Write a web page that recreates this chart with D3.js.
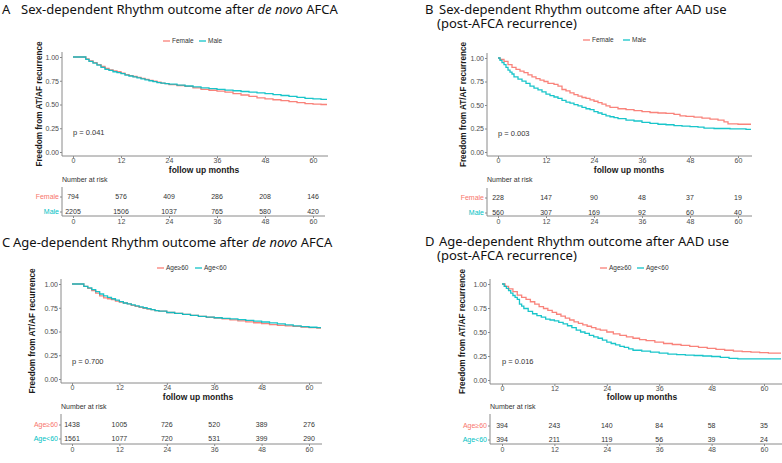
<!DOCTYPE html>
<html><head><meta charset="utf-8">
<script src="https://cdn.jsdelivr.net/npm/d3@7/dist/d3.min.js"></script>
<style>body{margin:0;background:#fff}svg{display:block}text{white-space:pre}</style>
</head><body>
<svg id="c" width="782" height="463"></svg>
<script>
// ---------- DATA ----------
const months = [0, 12, 24, 36, 48, 60];
const yTicks = [0, 0.25, 0.5, 0.75, 1];
const sexGroups = ["Female", "Male"];
const ageGroups = ["Age\u226560", "Age<60"];
const pValues = ["p = 0.041", "p = 0.003", "p = 0.700", "p = 0.016"];

// Panel A: de novo AFCA by sex
const aFemaleT = [0,3.2,4,5,6,7,8,9,10,11,12,13,14,15,16,17,18,19,20,21,22,23,24,26,28,30,32,34,36,38,40,42,44,46,48,50,52,54,56,58,60,62];
const aFemaleS = [1,.98,.96,.94,.92,.9,.88,.865,.855,.845,.83,.815,.805,.795,.785,.775,.765,.755,.745,.735,.725,.72,.71,.70,.69,.675,.66,.65,.64,.63,.615,.60,.585,.57,.56,.55,.54,.53,.52,.51,.505,.50];
const aMaleT = [0,3.2,4,5,6,7,8,9,10,11,12,13,14,15,16,17,18,19,20,21,22,23,24,26,28,30,32,34,36,38,40,42,44,46,48,50,52,54,56,58,60,62];
const aMaleS = [1,.975,.955,.935,.915,.89,.87,.86,.845,.835,.825,.81,.80,.79,.78,.77,.76,.75,.74,.73,.725,.72,.715,.705,.695,.685,.675,.668,.66,.652,.645,.637,.63,.622,.615,.605,.595,.585,.575,.565,.56,.555];
const aRiskFemale = [794, 576, 409, 286, 208, 146];
const aRiskMale = [2205, 1506, 1037, 765, 580, 420];

// Panel B: AAD use by sex
const bFemaleT = [0,0.5,1.5,2.5,3.5,4.5,5.5,6.5,7.5,8.5,9.5,10.5,11.5,12.5,14,15,16,17,18,19,20,21,22,23,24,25,26,27,28,30,32,34,36,38,40,42,44,45.5,47,49,51,53,55,56.5,57.5,60,62];
const bFemaleS = [1,.985,.965,.93,.9,.88,.86,.845,.82,.80,.78,.765,.75,.73,.72,.70,.665,.65,.63,.61,.595,.58,.57,.555,.54,.525,.51,.49,.475,.46,.45,.44,.43,.42,.415,.41,.40,.385,.38,.37,.36,.35,.34,.32,.30,.295,.295];
const bMaleT = [0,0.5,1,1.5,2,2.5,3,3.5,4,5,6,7,8,9,10,11,12,13,14,15,16,17,18,19,20,21,22,23,24,25,26,27,28,29,30,32,34,36,38,40,42,44,46,48,50,51.5,54,58,62];
const bMaleS = [1,.975,.95,.93,.9,.87,.85,.83,.80,.775,.755,.73,.70,.68,.66,.64,.615,.60,.585,.57,.55,.53,.52,.505,.49,.475,.46,.45,.43,.415,.40,.385,.375,.365,.355,.34,.33,.315,.305,.295,.29,.28,.275,.27,.265,.255,.25,.245,.24];
const bRiskFemale = [228, 147, 90, 48, 37, 19];
const bRiskMale = [560, 307, 169, 92, 60, 40];

// Panel C: de novo AFCA by age
const cOldT = [0,3,4,5,6,7,8,9,10,11,12,13,14,15,16,17,18,19,20,21,22,24,26,28,30,32,34,36,38,40,42,44,46,48,50,52,54,56,58,60,62];
const cOldS = [1,.975,.955,.93,.905,.875,.855,.845,.835,.82,.81,.80,.79,.775,.765,.755,.745,.735,.73,.72,.715,.70,.69,.68,.67,.66,.65,.642,.632,.622,.612,.602,.592,.582,.572,.565,.56,.553,.547,.54,.535];
const cYoungT = [0,3,4,5,6,7,8,9,10,11,12,13,14,15,16,17,18,19,20,21,22,24,26,28,30,32,34,36,38,40,42,44,46,48,50,52,54,56,58,60,62];
const cYoungS = [1,.975,.96,.94,.92,.895,.875,.86,.845,.83,.815,.80,.79,.78,.77,.76,.75,.74,.73,.72,.715,.70,.69,.68,.67,.66,.652,.645,.638,.632,.625,.618,.61,.60,.59,.58,.57,.56,.552,.545,.54];
const cRiskOld = [1438, 1005, 726, 520, 389, 276];
const cRiskYoung = [1561, 1077, 720, 531, 399, 290];

// Panel D: AAD use by age
const dOldT = [0,0.7,1.5,2.5,3.5,4.5,5.5,6.5,7.5,8.5,9.5,10.5,11.5,12.5,13.5,14.5,15.5,16.5,17.5,18.5,19.5,20.5,21.5,22.5,24,25.5,27,28.5,30,31.5,33,35,37,39,41,43,45,47,49,51,53,55,57,59,61];
const dOldS = [1,.975,.95,.92,.885,.86,.84,.815,.79,.765,.745,.725,.705,.685,.665,.645,.625,.605,.59,.575,.56,.545,.53,.52,.5,.48,.465,.45,.435,.42,.41,.395,.38,.37,.36,.35,.34,.33,.32,.31,.30,.295,.29,.285,.28];
const dYoungT = [0,0.5,1,1.5,2,2.5,3,3.5,4,4.5,5,6,7,8,9,10,11,12,13,14,15,16,17,18,19,20,21,22,23,24,25,26,27,28,29,30,32,34,36,38,40,42,44,46,48,50,52,54,60];
const dYoungS = [1,.975,.955,.93,.905,.88,.86,.84,.79,.77,.745,.715,.69,.67,.655,.635,.625,.615,.6,.585,.565,.545,.52,.5,.485,.465,.45,.435,.415,.395,.38,.365,.35,.34,.325,.31,.3,.29,.28,.27,.265,.26,.255,.25,.245,.235,.225,.22,.22];
const dRiskOld = [394, 243, 140, 84, 58, 35];
const dRiskYoung = [394, 211, 119, 56, 39, 24];

// ---------- LAYOUT ----------
const COL = ["#F8766D", "#00BFC4"];
const TICKFONT = "Liberation Sans, Arial, sans-serif";
const TITLEFONT = "Noto Sans, Open Sans, sans-serif";

const panels = [
  { letter: "A", letterX: 2, textX: 21, titleY: 14,
    lines: [["Sex-dependent Rhythm outcome after ", ["de novo"], " AFCA"]],
    legendY: 41, legendX: [163, 199], groups: sexGroups,
    series: [[aFemaleT, aFemaleS], [aMaleT, aMaleS]], risk: [aRiskFemale, aRiskMale], p: pValues[0],
    axisX: 62, x0: 73, x60: 313, xEnd: 328, yTop: 57, yBot: 152, axisTop: 52, axisBot: 156,
    ylabX: 39, xlabX: 204, xlabY: 173, pY: 135,
    nrY: 182, rowY: [197, 212], tblTop: 187, tblLine: 216, tblEnd: 325 },
  { letter: "B", letterX: 425, textX: 439, titleY: 14,
    lines: [["Sex-dependent Rhythm outcome after AAD use"], ["(post-AFCA recurrence)"]], line2X: 437,
    legendY: 40, legendX: [583, 623], groups: sexGroups,
    series: [[bFemaleT, bFemaleS], [bMaleT, bMaleS]], risk: [bRiskFemale, bRiskMale], p: pValues[1],
    axisX: 487, x0: 498, x60: 738, xEnd: 752, yTop: 58, yBot: 152, axisTop: 53, axisBot: 156,
    ylabX: 463, xlabX: 629, xlabY: 173, pY: 136,
    nrY: 182, rowY: [198, 213], tblTop: 188, tblLine: 216, tblEnd: 752 },
  { letter: "C", letterX: 2, textX: 13, titleY: 247,
    lines: [["Age-dependent Rhythm outcome after ", ["de novo"], " AFCA"]],
    legendY: 268, legendX: [157, 195], groups: ageGroups,
    series: [[cOldT, cOldS], [cYoungT, cYoungS]], risk: [cRiskOld, cRiskYoung], p: pValues[2],
    axisX: 61, x0: 72, x60: 309, xEnd: 322, yTop: 284, yBot: 379, axisTop: 279, axisBot: 383,
    ylabX: 32, xlabX: 198, xlabY: 400, pY: 364,
    nrY: 409, rowY: [425, 439], tblTop: 414, tblLine: 444, tblEnd: 322 },
  { letter: "D", letterX: 425, textX: 439, titleY: 246,
    lines: [["Age-dependent Rhythm outcome after AAD use"], ["(post-AFCA recurrence)"]], line2X: 437,
    legendY: 268, legendX: [600, 637], groups: ageGroups,
    series: [[dOldT, dOldS], [dYoungT, dYoungS]], risk: [dRiskOld, dRiskYoung], p: pValues[3],
    axisX: 490, x0: 502, x60: 764, xEnd: 782, yTop: 284, yBot: 380, axisTop: 279, axisBot: 384,
    ylabX: 462, xlabX: 642, xlabY: 400, pY: 364,
    nrY: 409, rowY: [426, 440], tblTop: 414, tblLine: 444, tblEnd: 782 }
];

const svg = d3.select("#c");

function drawPanel(cfg) {
  const g = svg.append("g");
  const x = d3.scaleLinear().domain([0, 60]).range([cfg.x0, cfg.x60]);
  const y = d3.scaleLinear().domain([0, 1]).range([cfg.yBot, cfg.yTop]);

  // Title (one text element; second line as a tspan)
  const tg = g.append("g").attr("font-family", TITLEFONT).attr("font-size", 13).attr("fill", "#111");
  tg.append("text").attr("x", cfg.letterX).attr("y", cfg.titleY).text(cfg.letter);
  const t = tg.append("text").attr("x", cfg.textX).attr("y", cfg.titleY);
  cfg.lines.forEach((parts, li) => {
    parts.forEach((p, pi) => {
      const ts = t.append("tspan");
      if (li > 0 && pi === 0) ts.attr("x", cfg.line2X).attr("dy", 13.5);
      if (Array.isArray(p)) ts.attr("font-style", "italic").text(p[0]);
      else ts.text(p);
    });
  });

  // Legend
  cfg.groups.forEach((name, i) => {
    const lx = cfg.legendX[i];
    g.append("line").attr("x1", lx).attr("x2", lx + 7).attr("y1", cfg.legendY).attr("y2", cfg.legendY)
      .attr("stroke", COL[i]).attr("stroke-width", 1.2);
    g.append("text").attr("x", lx + 9).attr("y", cfg.legendY).attr("dy", "0.35em")
      .attr("font-family", TICKFONT).attr("font-size", 6.5).attr("fill", "#333").text(name);
  });

  // Axes lines
  const axCol = "#8a8a8a";
  g.append("line").attr("x1", cfg.axisX).attr("x2", cfg.axisX).attr("y1", cfg.axisTop).attr("y2", cfg.axisBot)
    .attr("stroke", axCol).attr("stroke-width", 1);
  g.append("line").attr("x1", cfg.axisX).attr("x2", cfg.xEnd).attr("y1", cfg.axisBot).attr("y2", cfg.axisBot)
    .attr("stroke", axCol).attr("stroke-width", 1);

  const yAx = g.append("g").attr("transform", `translate(${cfg.axisX},0)`)
    .call(d3.axisLeft(y).tickValues(yTicks).tickFormat(d3.format(".2f")).tickSize(2).tickPadding(1));
  const xAx = g.append("g").attr("transform", `translate(0,${cfg.axisBot})`)
    .call(d3.axisBottom(x).tickValues(months).tickSize(2).tickPadding(0.5));
  [yAx, xAx].forEach(a => {
    a.select(".domain").remove();
    a.selectAll("line").attr("stroke", axCol);
    a.selectAll("text").attr("font-family", TICKFONT).attr("font-size", 7).attr("fill", "#4d4d4d");
  });

  // Axis titles
  g.append("text").attr("x", cfg.xlabX).attr("y", cfg.xlabY).attr("text-anchor", "middle")
    .attr("font-family", TICKFONT).attr("font-size", 8.5).attr("font-weight", "bold").attr("fill", "#1a1a1a")
    .text("follow up months");
  g.append("text").attr("transform", `translate(${cfg.ylabX},${(cfg.axisTop + cfg.axisBot) / 2}) rotate(-90)`)
    .attr("text-anchor", "middle").attr("dy", "0.35em")
    .attr("font-family", TICKFONT).attr("font-size", 8.2).attr("font-weight", "bold").attr("fill", "#1a1a1a")
    .text("Freedom from AT/AF recurrence");

  // Curves
  const endMonth = x.invert(cfg.xEnd - 1);
  const line = d3.line().curve(d3.curveStepAfter).x(d => x(d[0])).y(d => y(d[1]));
  cfg.series.forEach(([ts, ss], i) => {
    const pts = ts.map((tt, k) => [tt, ss[k]]);
    pts.push([endMonth, ss[ss.length - 1]]);
    g.append("path").datum(pts).attr("d", line).attr("fill", "none")
      .attr("stroke", COL[i]).attr("stroke-width", 1.3).attr("stroke-opacity", 0.9);
  });

  // p-value
  g.append("text").attr("x", x(0)).attr("y", cfg.pY).attr("font-family", TICKFONT).attr("font-size", 7.5)
    .attr("fill", "#333").text(cfg.p);

  // Risk table
  g.append("text").attr("x", cfg.axisX).attr("y", cfg.nrY).attr("font-family", TICKFONT).attr("font-size", 7)
    .attr("fill", "#333").text("Number at risk");
  g.append("line").attr("x1", cfg.axisX).attr("x2", cfg.axisX).attr("y1", cfg.tblTop).attr("y2", cfg.tblLine)
    .attr("stroke", axCol);
  g.append("line").attr("x1", cfg.axisX).attr("x2", cfg.tblEnd).attr("y1", cfg.tblLine).attr("y2", cfg.tblLine)
    .attr("stroke", axCol);
  const tAx = g.append("g").attr("transform", `translate(0,${cfg.tblLine})`)
    .call(d3.axisBottom(x).tickValues(months).tickSize(2).tickPadding(1));
  tAx.select(".domain").remove();
  tAx.selectAll("line").attr("stroke", axCol);
  tAx.selectAll("text").attr("font-family", TICKFONT).attr("font-size", 7).attr("fill", "#4d4d4d");

  cfg.groups.forEach((name, i) => {
    const ry = cfg.rowY[i];
    g.append("line").attr("x1", cfg.axisX - 2).attr("x2", cfg.axisX).attr("y1", ry).attr("y2", ry).attr("stroke", axCol);
    g.append("text").attr("x", cfg.axisX - 3).attr("y", ry).attr("dy", "0.35em").attr("text-anchor", "end")
      .attr("font-family", TICKFONT).attr("font-size", 7).attr("fill", COL[i]).text(name);
    g.selectAll(null).data(cfg.risk[i]).enter().append("text")
      .attr("x", (d, k) => x(months[k])).attr("y", ry).attr("dy", "0.35em").attr("text-anchor", "middle")
      .attr("font-family", TICKFONT).attr("font-size", 7).attr("fill", "#333").text(d => d);
  });
}

panels.forEach(drawPanel);
</script>
</body></html>
